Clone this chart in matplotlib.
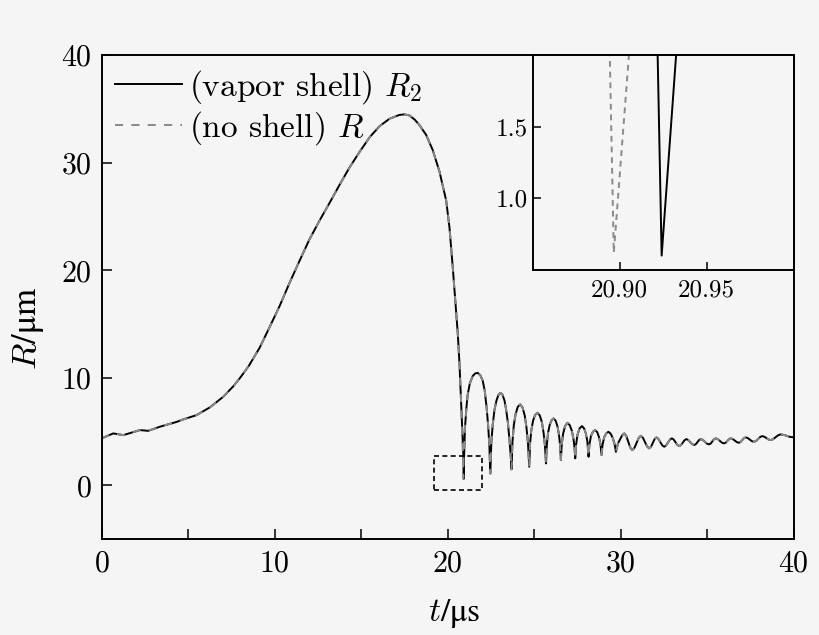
"""Bubble radius vs time: vapor shell model (R2) against no-shell model (R)."""

import matplotlib

matplotlib.use("Agg")
import matplotlib.pyplot as plt
from matplotlib.patches import Rectangle
from matplotlib.ticker import FixedLocator, MultipleLocator, FormatStrFormatter

# values
# growth and first collapse (both models agree here)
t_growth = [
    0.0, 0.67, 1.25, 2.21, 2.69, 3.36, 4.33, 4.71, 5.48, 6.25, 7.02, 7.6, 8.0,
    8.5, 9.13, 9.7, 10.29, 10.85, 11.44, 12.0, 12.6, 13.2, 13.75, 14.3, 14.9,
    15.5, 16.06, 16.64, 17.21, 17.5, 17.79, 18.1, 18.37, 18.75, 19.13, 19.52,
    19.91, 20.1, 20.29, 20.45, 20.58, 20.68, 20.77,
]
R_growth = [
    4.37, 4.83, 4.67, 5.14, 5.07, 5.45, 5.9, 6.13, 6.53, 7.25, 8.23, 9.2, 10.0,
    11.1, 12.8, 14.7, 16.7, 18.8, 20.9, 22.85, 24.65, 26.35, 27.95, 29.5, 31.0,
    32.4, 33.4, 34.1, 34.45, 34.5, 34.4, 34.0, 33.5, 32.6, 31.2, 29.2,
    26.5, 24.0, 20.3, 16.9, 14.15, 11.3, 7.93,
]

# around the first minimum (see inset)
t_min_shell = [20.85, 20.9218, 20.9241, 20.9324]
R_min_shell = [4.8, 2.0, 0.6, 2.0]
t_min_noshell = [20.83, 20.8943, 20.8966, 20.9053]
R_min_noshell = [4.8, 2.0, 0.62, 2.0]

# rebounds
t_rebound = [
    21.0, 21.08, 21.15, 21.28, 21.44, 21.58, 21.73, 21.88, 22.02, 22.14, 22.25,
    22.34, 22.41, 22.46,
    22.52, 22.60, 22.70, 22.82, 22.93, 23.04, 23.16, 23.28, 23.38, 23.48, 23.56,
    23.63, 23.69,
    23.74, 23.82, 23.92, 24.05, 24.19, 24.32, 24.45, 24.55, 24.64, 24.71,
    24.76, 24.83, 24.93, 25.05, 25.19, 25.32, 25.44, 25.54, 25.62, 25.68,
    25.73, 25.80, 25.90, 26.0, 26.12, 26.24, 26.35, 26.44, 26.50, 26.54,
    26.59, 26.67, 26.78, 26.92, 27.05, 27.17, 27.27, 27.33, 27.37,
    27.42, 27.50, 27.62, 27.76, 27.88, 27.98, 28.07, 28.14,
    28.19, 28.28, 28.40, 28.52, 28.64, 28.74, 28.83, 28.89,
    28.95, 29.05, 29.17, 29.29, 29.42, 29.54, 29.65, 29.72,
    29.84, 30.08, 30.20, 30.32, 30.55, 30.67, 30.79, 31.04, 31.16, 31.28,
    31.52, 31.64, 31.75, 31.96, 32.06, 32.17, 32.40, 32.51, 32.62, 32.84,
    32.95, 33.06, 33.27, 33.38, 33.48, 33.69, 33.79, 33.90, 34.13, 34.24,
    34.34, 34.53, 34.62, 34.74, 34.98, 35.10, 35.20, 35.39, 35.49, 35.61,
    35.85, 35.97, 36.07, 36.26, 36.35, 36.47, 36.71, 36.83, 36.93, 37.12,
    37.22, 37.34, 37.58, 37.70, 37.82, 38.06, 38.18, 38.30, 38.54, 38.66,
    38.80, 39.10, 39.24, 39.45, 39.75, 40.0,
]
R_rebound = [
    5.4, 7.2, 8.4, 9.5, 10.15, 10.4, 10.46, 10.25, 9.75, 8.8, 7.2,
    5.5, 3.6, 1.1,
    4.0, 5.6, 7.0, 7.9, 8.4, 8.6, 8.45, 7.9, 7.0, 5.8, 4.4,
    3.0, 1.49,
    4.0, 5.6, 6.6, 7.3, 7.53, 7.25, 6.5, 5.4, 3.9, 1.73,
    3.9, 5.1, 6.0, 6.55, 6.75, 6.5, 5.9, 4.9, 3.7, 2.04,
    3.8, 4.9, 5.65, 6.05, 6.23, 6.0, 5.45, 4.6, 3.6, 2.35,
    3.8, 4.8, 5.5, 5.82, 5.6, 5.1, 4.3, 3.5, 2.51,
    3.8, 4.7, 5.3, 5.51, 5.3, 4.85, 4.1, 2.66,
    3.8, 4.6, 5.0, 5.14, 4.95, 4.5, 3.8, 2.82,
    3.8, 4.5, 4.85, 4.98, 4.8, 4.4, 3.8, 3.12,
    3.9, 4.65, 4.83, 4.60, 3.51, 3.28, 3.48, 4.41, 4.61, 4.43,
    3.62, 3.44, 3.59, 4.31, 4.46, 4.33, 3.72, 3.59, 3.71, 4.25,
    4.37, 4.26, 3.76, 3.65, 3.75, 4.20, 4.30, 4.22, 3.83, 3.75,
    3.83, 4.22, 4.30, 4.23, 3.88, 3.81, 3.89, 4.29, 4.37, 4.30,
    3.97, 3.90, 3.97, 4.30, 4.37, 4.31, 4.02, 3.96, 4.04, 4.39,
    4.46, 4.40, 4.11, 4.05, 4.13, 4.50, 4.58, 4.52, 4.27, 4.21,
    4.29, 4.66, 4.74, 4.68, 4.52, 4.46,
]

t_shell = t_growth + t_min_shell + t_rebound
R_shell = R_growth + R_min_shell + R_rebound
t_noshell = t_growth + t_min_noshell + t_rebound
R_noshell = R_growth + R_min_noshell + R_rebound

# zoom window marked on the main plot
zoom_box = (19.2, -0.45, 2.8, 3.15)  # t0, R0, width, height

plt.rcParams["font.family"] = ["cmr10", "DejaVu Serif"]
plt.rcParams["mathtext.fontset"] = "cm"
plt.rcParams["axes.formatter.use_mathtext"] = True

BG = "#f5f5f5"
GREY = "#8a8a8a"

fig = plt.figure(figsize=(8.2, 6.35), dpi=100, facecolor=BG)
ax = fig.add_axes([0.124, 0.151, 0.844, 0.762], facecolor=BG)

ax.plot(t_shell, R_shell, color="black", lw=1.4, label=r"(vapor shell) $R_2$")
ax.plot(t_noshell, R_noshell, color=GREY, lw=1.4, linestyle=(0, (4.2, 4.2)),
        label=r"(no shell) $R$")
ax.add_patch(Rectangle(zoom_box[:2], zoom_box[2], zoom_box[3], fill=False,
                       edgecolor="black", lw=1.2, linestyle=(0, (3, 2))))

ax.set_xlim(0, 40)
ax.set_ylim(-5, 40)
ax.xaxis.set_major_locator(MultipleLocator(10))
ax.xaxis.set_minor_locator(MultipleLocator(5))
ax.yaxis.set_major_locator(FixedLocator([0, 10, 20, 30, 40]))
ax.tick_params(which="both", direction="in", length=7.5, width=1.1, labelsize=21.5)
ax.tick_params(axis="x", pad=8)
ax.tick_params(axis="y", pad=7)
for spine in ax.spines.values():
    spine.set_linewidth(1.4)
ax.set_xlabel(r"$t$/μs", fontsize=24, fontfamily="STIXGeneral")
ax.set_ylabel(r"$R$/μm", fontsize=25, fontfamily="STIXGeneral")
ax.xaxis.set_label_coords(0.51, -0.12)
ax.yaxis.set_label_coords(-0.08, 0.436)
ax.legend(loc="upper left", frameon=False, fontsize=24, handlelength=2.0,
          handletextpad=0.22, labelspacing=0.08, borderaxespad=0.2, borderpad=0.2)

ins = fig.add_axes([0.6496, 0.575, 0.3184, 0.338], facecolor=BG)
ins.plot(t_shell, R_shell, color="black", lw=1.4)
ins.plot(t_noshell, R_noshell, color=GREY, lw=1.4, linestyle=(0, (3.0, 2.5)))
ins.set_xlim(20.85, 21.0)
ins.set_ylim(0.5, 2.0)
ins.xaxis.set_major_locator(FixedLocator([20.90, 20.95]))
ins.yaxis.set_major_locator(FixedLocator([1.0, 1.5]))
ins.xaxis.set_major_formatter(FormatStrFormatter("%.2f"))
ins.yaxis.set_major_formatter(FormatStrFormatter("%.1f"))
ins.tick_params(direction="in", length=6, width=1.1, labelsize=18)
ins.tick_params(axis="x", pad=7)
for spine in ins.spines.values():
    spine.set_linewidth(1.4)

fig.savefig("out.png", dpi=100, facecolor=BG)
